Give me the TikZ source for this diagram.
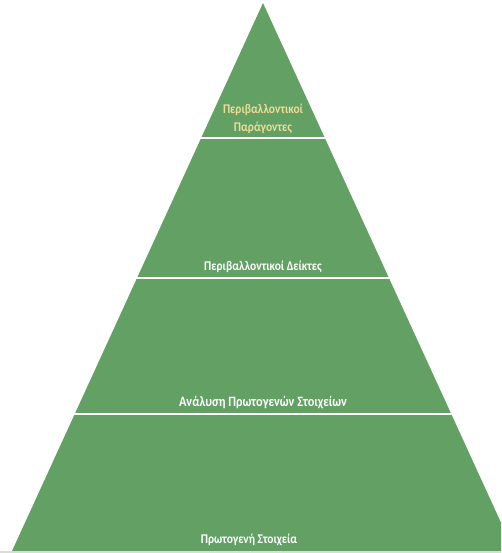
\documentclass[tikz,border=0pt]{standalone}
\usepackage{fontspec}
\setmainfont{Carlito}[FakeStretch=0.86]
\definecolor{layergreen}{RGB}{98,160,100}
\definecolor{topgold}{RGB}{238,222,150}
\definecolor{seamgray}{RGB}{215,222,215}
\begin{document}
\begin{tikzpicture}[x=1pt,y=-1pt,
  layer/.style={fill=layergreen,draw=none},
  seam/.style={draw=white,line width=2.2pt},
  label/.style={font=\fontsize{13.3}{16}\selectfont\bfseries,text=white,anchor=base,inner sep=0pt},
  widelabel/.style={label,font=\fontsize{14.3}{16}\selectfont\bfseries},
  toplabel/.style={label,text=topgold,align=center,anchor=base}]
  \useasboundingbox (0,0) rectangle (501,553);
  \begin{scope}
    \clip (0,0) rectangle (501,553);
    % pyramid body
    \fill[layergreen] (263,3) -- (514,551) -- (12,551) -- cycle;
    % horizontal separators between the tiers
    \coordinate (s1l) at (200,138); \coordinate (s1r) at (326,138);
    \coordinate (s2l) at (136,278); \coordinate (s2r) at (390,278);
    \coordinate (s3l) at (74,414);  \coordinate (s3r) at (452,414);
    \draw[seam] (s1l) -- (s1r);
    \draw[seam] (s2l) -- (s2r);
    \draw[seam] (s3l) -- (s3r);
    \fill[seamgray] (0,551) rectangle (501,553);
  \end{scope}
  % tier labels
  \node[toplabel] (t1) at (263,114) {Περιβαλλοντικοί};
  \node[toplabel] (t1b) at (263,132) {Παράγοντες};
  \node[label] (t2) at (263,270) {Περιβαλλοντικοί Δείκτες};
  \node[widelabel] (t3) at (263,406) {Ανάλυση Πρωτογενών Στοιχείων};
  \node[label] (t4) at (249,543) {Πρωτογενή Στοιχεία};
\end{tikzpicture}
\end{document}
